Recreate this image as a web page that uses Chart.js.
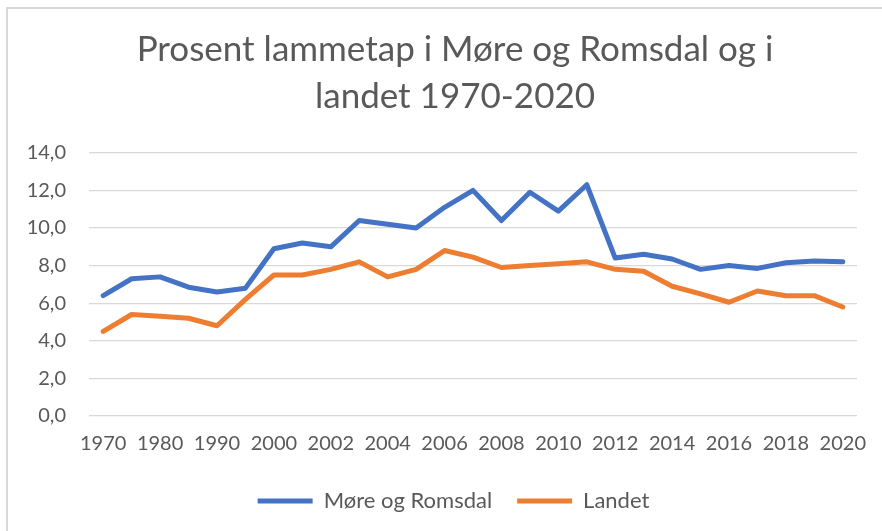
<!DOCTYPE html>
<html>
<head>
<meta charset="utf-8">
<script src="https://cdn.jsdelivr.net/npm/chart.js@4/dist/chart.umd.min.js"></script>
<style>
  body { margin: 0; background: #fff; overflow: hidden; }
  #frame { position: absolute; left: 6px; top: 7px; width: 940px; height: 540px; border: 2px solid #d9d9d9; }
  #myChart { position: absolute; left: 0; top: 0; }
</style>
</head>
<body>
<div id="frame"></div>
<canvas id="myChart" width="910" height="531"></canvas>
<script>
// data
const years = ["1970","1975","1980","1985","1990","1995","2000","2001","2002","2003","2004","2005","2006","2007","2008","2009","2010","2011","2012","2013","2014","2015","2016","2017","2018","2019","2020"];
const moreOgRomsdal = [6.4,7.3,7.4,6.85,6.6,6.8,8.9,9.2,9.0,10.4,10.2,10.0,11.1,12.0,10.4,11.9,10.9,12.3,8.4,8.6,8.35,7.8,8.0,7.85,8.15,8.25,8.2];
const landet = [4.5,5.4,5.3,5.2,4.8,6.2,7.5,7.5,7.8,8.2,7.4,7.8,8.8,8.45,7.9,8.0,8.1,8.2,7.8,7.7,6.9,6.5,6.05,6.65,6.4,6.4,5.8];
const titleLines = ["Prosent lammetap i Møre og Romsdal og i", "landet 1970-2020"];

const grey = "#595959";
const fontFam = "Lato, 'Open Sans', sans-serif";

// excel centres title/legend a bit more to the right than chart.js does
const shiftBlocks = {
  id: "shiftBlocks",
  afterLayout(chart){
    if (chart.titleBlock) { chart.titleBlock.left = 53; }
    if (chart.legend) { chart.legend.left = 50; }
  }
};

function showChart(){
  const ctx = document.getElementById("myChart");

  new Chart(ctx, {
    type: "line",
    data: {
      labels: years,
      datasets: [
        {
          label: "Møre og Romsdal",
          data: moreOgRomsdal,
          borderColor: "#4472c4",
          backgroundColor: "#4472c4",
          borderWidth: 5,
          pointRadius: 0,
          borderCapStyle: "round",
          borderJoinStyle: "round",
        },
        {
          label: "Landet",
          data: landet,
          borderColor: "#ed7d31",
          backgroundColor: "#ed7d31",
          borderWidth: 5,
          pointRadius: 0,
          borderCapStyle: "round",
          borderJoinStyle: "round",
        }
      ],
    },
    options: {
      responsive: false,
      animation: false,
      layout: { padding: { left: 0, right: 53, top: 0, bottom: 9 } },
      plugins: {
        title: {
          display: true,
          text: titleLines,
          color: grey,
          font: { family: fontFam, size: 35, weight: "normal", lineHeight: 1.34 },
          padding: { top: 26, bottom: 33 },
        },
        legend: {
          position: "bottom",
          labels: {
            color: grey,
            font: { family: fontFam, size: 22 },
            boxWidth: 55,
            boxHeight: 5,
            padding: 25,
            useBorderRadius: true,
            borderRadius: 2.5,
            generateLabels: (chart) => chart.data.datasets.map((ds, i) => ({
              text: ds.label,
              fillStyle: ds.borderColor,
              strokeStyle: ds.borderColor,
              lineWidth: 0,
              fontColor: grey,
              datasetIndex: i,
            })),
          },
        },
        tooltip: { enabled: false },
      },
      scales: {
        x: {
          offset: true,
          grid: { display: false, drawTicks: false },
          border: { display: false },
          ticks: {
            color: grey,
            font: { family: fontFam, size: 20 },
            autoSkip: false,
            maxRotation: 0,
            padding: 16,
            callback: function(val, idx){ return idx % 2 === 0 ? this.getLabelForValue(val) : ""; },
          },
          afterFit: (scale) => { scale.height = 49; },
        },
        y: {
          min: 0,
          max: 14,
          grid: { color: "#d9d9d9", lineWidth: 1.3, drawTicks: false },
          border: { display: false },
          ticks: {
            stepSize: 2,
            color: grey,
            font: { family: fontFam, size: 20 },
            padding: 23,
            callback: (v) => v.toFixed(1).replace(".", ","),
          },
          afterFit: (scale) => { scale.width = 89; },
        },
      },
    },
    plugins: [shiftBlocks],
  });
}

showChart();
</script>
</body>
</html>
